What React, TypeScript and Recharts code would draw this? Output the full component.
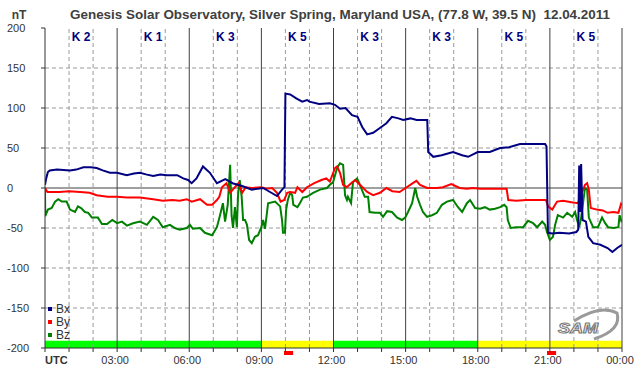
import React from 'react';
import {
  LineChart, Line, XAxis, YAxis, ReferenceLine, ReferenceArea, ReferenceDot, Legend,
} from 'recharts';

// ---- data ----
const bxTime = [0,0.05,0.12,0.2,0.5,1.04,1.3,1.6,1.9,2.15,2.4,2.7,3.0,3.4,3.7,3.95,4.2,4.5,4.8,5.07,5.5,5.75,5.95,6.1,6.3,6.57,6.86,7.15,7.5,7.8,8.2,8.6,9.07,9.36,9.65,9.86,9.96,10.0,10.2,10.45,10.7,10.9,11.0,11.4,11.85,12.06,12.27,12.5,12.77,13.0,13.2,13.4,13.65,13.93,14.2,14.43,14.7,14.9,15.2,15.46,15.9,15.94,16.15,16.5,16.97,17.35,17.6,18.0,18.3,18.5,18.93,19.3,19.76,20.2,20.8,20.86,20.92,21.1,21.4,21.8,22.1,22.18,22.22,22.26,22.3,22.36,22.5,22.6,22.8,23.1,23.4,23.6,23.8,24];
const bxValue = [4,12,20,22,23,22,23,26,26,25,22,19,19,16,18,19,17,15,17,16,16,12,10,6,12,27,19,6,11,6,2.5,-2,0,-5,-10,-2,1,118,117,112,108,110,108,105,106,104,99,100,91,89,76,67,69,75,81,89,87,85,87,85,85,45,39,41,45,41,39,45,45,45,50,51,55,55,55,52,-56,-57,-56,-57,-55,-52,28,-30,30,-40,-42,-61,-69,-71,-75,-80,-75,-71];

const byTime = [0,0.1,0.6,1.0,1.46,1.85,2.15,2.6,3.0,3.4,3.95,4.5,4.9,5.3,5.6,5.9,6.1,6.45,6.74,6.95,7.15,7.25,7.36,7.55,7.7,7.9,8.05,8.2,8.35,8.6,9.0,9.2,9.45,9.65,9.8,9.95,10.07,10.2,10.4,10.5,10.7,10.9,11.2,11.5,11.7,11.85,12.0,12.06,12.15,12.27,12.4,12.55,12.77,12.9,13.1,13.4,13.65,13.93,14.2,14.45,14.75,15.0,15.3,15.45,15.6,15.9,16.3,16.55,16.9,17.25,17.55,17.8,18.1,18.5,18.9,19.2,19.27,19.6,20.0,20.4,20.84,20.92,21.1,21.3,21.55,21.95,22.17,22.25,22.46,22.55,22.62,22.7,22.95,23.2,23.4,23.65,23.85,23.96,24];
const byValue = [0,-5,-5,-4,-5,-6,-9,-11,-11,-12,-12,-14,-16,-15,-16,-14,-17,-14,-21,-21,-15,-11,1,6,-6,1,6,-6,1,0,1,-1,0,-6,-17,-15,-6,-5,-6,1,-5,1,6,10,12,8,20,25,27,19,4,1,7,10,4,-5,-9,-6,0,-4,-5,0,6,9,4,0,0,1,5,0,-1,0,-1,-1,-1,-1,-15,-16,-15,-15,-15,-23,-27,-17,-16,-18,-19,-12,4,6,-2,-25,-27,-28,-31,-30,-31,-20,-22];

const bzTime = [0,0.01,0.12,0.28,0.42,0.55,0.7,0.9,1.04,1.25,1.37,1.5,1.66,1.8,1.95,2.2,2.37,2.58,2.8,3.0,3.2,3.41,3.66,3.95,4.24,4.5,4.7,4.9,5.2,5.4,5.6,5.9,6.03,6.15,6.45,6.65,6.95,7.15,7.28,7.4,7.49,7.6,7.7,7.76,7.82,7.9,7.98,8.03,8.1,8.18,8.24,8.32,8.4,8.49,8.6,8.73,8.86,9.0,9.07,9.15,9.28,9.57,9.78,9.86,9.9,9.98,10.03,10.1,10.2,10.28,10.33,10.5,10.6,10.73,10.9,11.15,11.44,11.73,11.85,11.98,12.15,12.27,12.4,12.48,12.56,12.6,12.73,12.81,12.98,13.1,13.3,13.44,13.5,13.73,13.93,14.06,14.23,14.43,14.65,14.85,14.98,15.1,15.27,15.4,15.48,15.6,15.72,15.89,16.1,16.3,16.51,16.72,16.97,17.18,17.35,17.55,17.68,17.89,18.1,18.3,18.5,18.72,18.93,19.1,19.2,19.25,19.37,19.6,19.89,20.09,20.3,20.47,20.68,20.8,20.88,21.0,21.13,21.22,21.33,21.55,21.72,21.93,22.05,22.13,22.22,22.3,22.46,22.55,22.62,22.8,23.0,23.17,23.3,23.42,23.64,23.85,23.9,23.98,24];
const bzValue = [0,-35,-27,-25,-17,-14,-17,-17,-27,-30,-23,-25,-30,-31,-37,-37,-45,-45,-40,-44,-42,-47,-44,-42,-46,-36,-40,-49,-46,-50,-52,-50,-46,-51,-50,-56,-59,-49,-34,-19,-42,-21,29,-34,-50,-24,-49,-9,10,-11,-40,-40,-46,-65,-69,-61,-59,-49,-40,-51,-19,-17,-23,-40,-56,-56,-27,-15,-6,-9,-21,-24,-19,-12,-11,-6,-2,0,4,7,25,31,29,-9,-15,-11,-19,7,12,4,-11,-11,-30,-31,-31,-36,-29,-30,-37,-40,-37,-30,-19,0,-11,-21,-30,-36,-34,-31,-21,-17,-15,-24,-30,-19,-15,-25,-26,-24,-27,-26,-24,-21,-24,-40,-50,-49,-49,-41,-44,-49,-42,-46,-55,-65,-61,-46,-34,-37,-31,-36,-30,-40,-49,-37,0,-2,-37,-49,-49,-37,-44,-49,-50,-49,-34,-42,-42];

const kIndex = [2, 1, 3, 5, 3, 3, 5, 5];
const yTicks = [-200, -150, -100, -50, 0, 50, 100, 150, 200];
const hourTicks = Array.from({ length: 25 }, (_, i) => i);
const hourLabels = ['UTC', '', '', '03:00', '', '', '06:00', '', '', '09:00', '', '', '12:00', '', '', '15:00', '', '', '18:00', '', '', '21:00', '', '', '00:00'];
const bandStart = [0, 9, 12, 18];
const bandEnd = [9, 12, 18, 24];
const bandColor = ['#00ff00', '#ffff00', '#00ff00', '#ffff00'];
const flareStart = [9.94, 20.88];
const flareEnd = [10.32, 21.26];

const bxData = bxTime.map((t, i) => ({ t, v: bxValue[i] }));
const byData = byTime.map((t, i) => ({ t, v: byValue[i] }));
const bzData = bzTime.map((t, i) => ({ t, v: bzValue[i] }));

const FONT = '"Liberation Sans", Arial, sans-serif';
const TXT = '#333333';

const YTick = (props: any) => {
  const { y, payload } = props;
  return (
    <text x={7} y={y} dy={4} fontSize={11} fill={TXT} fontFamily={FONT} textAnchor="start">
      {payload.value}
    </text>
  );
};

const XTick = (props: any) => {
  const { x, payload } = props;
  const label = hourLabels[payload.value];
  if (!label) return null;
  const isUtc = payload.value === 0;
  return (
    <text
      x={isUtc ? x : x - 2}
      y={364}
      fontSize={11}
      fill={TXT}
      fontFamily={FONT}
      fontWeight={isUtc ? 'bold' : 'normal'}
      textAnchor={isUtc ? 'start' : 'middle'}
    >
      {label}
    </text>
  );
};

const LegendContent = (props: any) => {
  const { payload } = props;
  return (
    <div style={{ fontFamily: FONT, fontSize: 12, color: TXT }}>
      {(payload || []).map((p: any) => (
        <div key={p.value} style={{ height: 13, display: 'flex', alignItems: 'center' }}>
          <span style={{ display: 'inline-block', width: 4, height: 4, background: p.color, marginRight: 4 }} />
          <span>{p.value}</span>
        </div>
      ))}
    </div>
  );
};

export default function App() {
  const dashed = hourTicks.filter((h) => h % 3 !== 0);
  const solid = hourTicks.filter((h) => h % 3 === 0 && h > 0);
  return (
    <div style={{ position: 'absolute', left: 0, top: 0, width: 642, height: 376, background: '#fff' }}>
      <LineChart width={642} height={376} margin={{ top: 28, right: 20, bottom: 8, left: 0 }}>
        <XAxis
          type="number"
          dataKey="t"
          domain={[0, 24]}
          ticks={hourTicks}
          interval={0}
          allowDataOverflow
          height={20}
          tick={<XTick />}
          tickSize={4}
          tickLine={{ stroke: '#333' }}
          axisLine={{ stroke: '#333' }}
        />
        <YAxis
          type="number"
          domain={[-200, 200]}
          ticks={yTicks}
          interval={0}
          allowDataOverflow
          width={45}
          tick={<YTick />}
          tickSize={4}
          tickLine={{ stroke: '#333' }}
          axisLine={{ stroke: '#333' }}
        />
        {dashed.map((h) => (
          <ReferenceLine key={'vd' + h} x={h} stroke="#9a9a9a" strokeDasharray="4 3" />
        ))}
        {yTicks.filter((v) => v !== 0 && Math.abs(v) !== 200).map((v) => (
          <ReferenceLine key={'hd' + v} y={v} stroke="#9a9a9a" strokeDasharray="4 3" />
        ))}
        {solid.map((h) => (
          <ReferenceLine key={'vs' + h} x={h} stroke="#404040" />
        ))}
        <ReferenceLine y={0} stroke="#404040" />
        {bandStart.map((s, i) => (
          <ReferenceArea key={'b' + i} x1={s} x2={bandEnd[i]} y1={-200} y2={-191} fill={bandColor[i]} fillOpacity={1} stroke="none" />
        ))}
        {flareStart.map((s, i) => (
          <ReferenceArea key={'f' + i} x1={s} x2={flareEnd[i]} y1={-208.75} y2={-203.75} fill="#ff0000" fillOpacity={1} stroke="none" ifOverflow="visible" />
        ))}
        {kIndex.map((k, i) => (
          <ReferenceDot
            key={'k' + i}
            x={1.5 + 3 * i}
            y={189}
            r={0}
            ifOverflow="visible"
            shape={(p: any) => (
              <text x={p.cx} y={p.cy} dy={4} textAnchor="middle" fontSize={12} fontWeight="bold" fill="#000080" fontFamily={FONT}>
                {'K ' + k}
              </text>
            )}
          />
        ))}
        <Line data={bzData} dataKey="v" name="Bz" stroke="#008000" strokeWidth={2} dot={false} isAnimationActive={false} legendType="square" />
        <Line data={byData} dataKey="v" name="By" stroke="#ff0000" strokeWidth={2} dot={false} isAnimationActive={false} legendType="square" />
        <Line data={bxData} dataKey="v" name="Bx" stroke="#000080" strokeWidth={2} dot={false} isAnimationActive={false} legendType="square" />
        <Legend
          layout="vertical"
          align="center"
          verticalAlign="middle"
          itemSorter={(item: any) => item.value}
          content={<LegendContent />}
          wrapperStyle={{ position: 'absolute', left: 48, top: 302, width: 40, height: 40 }}
        />
      </LineChart>
      <svg width={642} height={376} style={{ position: 'absolute', left: 0, top: 0, pointerEvents: 'none' }}>
        <text x={19} y={19} textAnchor="middle" fontSize={12} fontWeight="bold" fill="#404040" fontFamily={FONT}>nT</text>
        <text x={340} y={19} textAnchor="middle" fontSize={13} fontWeight="bold" fill="#404040" fontFamily={FONT} textLength={540} lengthAdjust="spacingAndGlyphs">
          {'Genesis Solar Observatory, Silver Spring, Maryland USA, (77.8 W, 39.5 N)\u00a0 12.04.2011'}
        </text>
        <path d="M 574 321 Q 600 304 617 313 Q 622 330 594 339" fill="none" stroke="#9a9a9a" strokeWidth={3} />
        <text x={558} y={333} fontSize={14} fontStyle="italic" fontWeight="bold" fill="#ffffff" stroke="#7a7a7a" strokeWidth={1} fontFamily={FONT} textLength={40} lengthAdjust="spacingAndGlyphs">SAM</text>
      </svg>
    </div>
  );
}
